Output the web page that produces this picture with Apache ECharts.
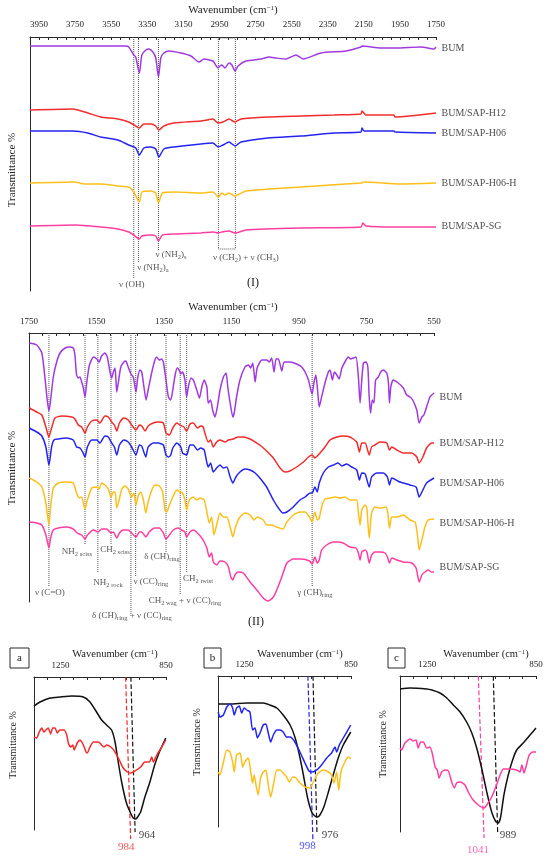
<!DOCTYPE html>
<html>
<head>
<meta charset="utf-8">
<script src="https://cdn.jsdelivr.net/npm/echarts@6.0.0/dist/echarts.min.js"></script>
<style>
  html, body { margin: 0; padding: 0; background: #fff; }
  #chart { width: 550px; height: 861px; }
</style>
</head>
<body>
<div id="chart"></div>
<script>
/* ========== 数据 ========== */
const seriesNames = ['BUM', 'BUM/SAP-H12', 'BUM/SAP-H06', 'BUM/SAP-H06-H', 'BUM/SAP-SG'];

// (I) 4000-1750 cm-1, [wavenumber, transmittance (a.u.)]
const bumI = [[4000,245],[3470,245],[3453,244],[3425,236],[3414,234],[3394,218],[3380,236],[3358,241],[3341,242],[3319,239],[3303,233],[3288,214],[3275,233],[3258,238],[3230,240],[3164,238],[3108,235],[3064,229],[3036,232],[2986,230],[2958,223],[2947,225],[2936,226],[2920,223],[2897,228],[2881,226],[2864,220],[2847,225],[2803,230],[2720,232],[2675,234],[2636,233],[2581,232],[2526,236],[2487,232],[2387,238],[2249,240],[2166,244],[2160,245],[2055,243],[1972,243],[1833,244],[1761,242],[1750,244]];
const h12I = [[4000,181],[3763,182],[3680,178],[3608,174],[3513,172],[3453,169],[3414,165],[3394,163],[3369,167],[3330,167],[3303,165],[3286,161],[3258,165],[3203,168],[3053,170],[2986,172],[2958,168],[2931,169],[2897,172],[2864,169],[2831,172],[2682,174],[2499,175],[2316,176],[2166,177],[2160,180],[2149,178],[2140,176],[1983,176],[1977,174],[1750,178]];
const h06I = [[4000,160],[3763,160],[3680,158],[3608,154],[3513,151],[3453,146],[3414,143],[3394,136],[3369,143],[3330,144],[3303,142],[3286,134],[3258,142],[3203,144],[3053,147],[2986,148],[2958,144],[2931,146],[2897,149],[2864,145],[2831,149],[2682,153],[2499,155],[2316,158],[2166,159],[2160,163],[2149,160],[1983,160],[1977,159],[1750,158]];
const h06hI = [[4000,108],[3750,109],[3700,107],[3608,107],[3513,105],[3453,104],[3425,99],[3394,89],[3380,99],[3330,100],[3303,98],[3288,88],[3266,98],[3194,99],[3053,98],[2986,99],[2956,94],[2936,98],[2920,96],[2897,98],[2864,95],[2803,100],[2499,104],[2166,108],[2149,109],[1944,107],[1750,108]];
const sgI = [[4000,65],[3750,66],[3608,64],[3513,62],[3453,59],[3425,56],[3394,52],[3380,55],[3330,56],[3303,55],[3288,50],[3266,56],[3194,57],[3053,58],[2986,59],[2956,58],[2936,59],[2897,60],[2864,58],[2803,61],[2499,63],[2166,64],[2155,68],[2138,65],[1977,64],[1750,64]];

// (II) 1750-550 cm-1
const bumII = [[1749,259],[1727,257],[1712,249],[1703,225],[1696,202],[1691,191],[1686,202],[1678,225],[1668,240],[1658,249],[1643,254],[1629,255],[1619,254],[1614,247],[1609,227],[1604,224],[1599,225],[1594,220],[1589,214],[1584,205],[1579,219],[1571,237],[1559,245],[1549,243],[1542,240],[1535,246],[1525,249],[1518,245],[1510,230],[1505,224],[1500,230],[1495,234],[1490,210],[1485,220],[1478,235],[1469,240],[1463,241],[1456,235],[1448,228],[1441,225],[1433,210],[1428,224],[1421,232],[1416,230],[1409,214],[1403,202],[1397,212],[1386,230],[1377,242],[1372,245],[1364,242],[1357,243],[1352,240],[1344,222],[1337,205],[1330,202],[1324,212],[1317,227],[1311,234],[1305,232],[1300,228],[1295,230],[1288,222],[1283,205],[1278,215],[1270,224],[1263,222],[1253,212],[1245,204],[1238,215],[1231,222],[1223,215],[1219,199],[1212,202],[1206,192],[1199,185],[1192,195],[1184,212],[1174,225],[1166,229],[1161,215],[1154,199],[1146,185],[1142,189],[1135,205],[1125,222],[1110,235],[1100,237],[1093,234],[1087,239],[1080,220],[1074,234],[1060,242],[1046,242],[1038,240],[1031,244],[1024,230],[1018,243],[1011,243],[1001,231],[994,240],[977,240],[957,238],[942,235],[932,230],[922,222],[915,212],[911,208],[906,219],[900,227],[895,212],[890,195],[883,205],[873,219],[863,230],[858,232],[851,222],[845,230],[838,227],[831,223],[823,234],[814,240],[804,245],[797,243],[789,244],[781,245],[774,225],[769,199],[764,222],[759,239],[751,240],[746,235],[742,205],[738,189],[733,202],[728,199],[723,222],[715,225],[708,230],[700,232],[690,229],[685,219],[682,199],[678,215],[671,222],[656,219],[641,214],[631,207],[621,205],[613,202],[601,192],[594,179],[586,185],[580,187],[572,195],[562,205],[550,209]];
const h12II = [[1749,194],[1727,190],[1712,187],[1700,175],[1691,165],[1683,174],[1673,184],[1653,186],[1623,185],[1614,183],[1604,177],[1594,175],[1584,169],[1577,175],[1564,181],[1549,182],[1540,179],[1525,186],[1515,185],[1505,180],[1497,177],[1490,171],[1482,179],[1469,184],[1456,182],[1446,177],[1433,172],[1423,177],[1416,176],[1406,171],[1397,176],[1382,179],[1367,180],[1352,179],[1344,169],[1334,167],[1324,174],[1312,179],[1303,177],[1291,175],[1283,171],[1273,178],[1263,179],[1251,174],[1241,176],[1234,175],[1229,169],[1219,160],[1212,162],[1204,155],[1194,160],[1184,162],[1169,160],[1159,162],[1145,163],[1130,165],[1115,165],[1095,163],[1080,160],[1066,157],[1046,151],[1026,144],[1006,134],[991,130],[977,131],[957,135],[937,140],[922,145],[911,147],[903,144],[893,147],[873,155],[858,162],[838,165],[819,166],[799,165],[779,160],[771,150],[764,159],[754,159],[742,147],[735,155],[725,157],[710,160],[690,159],[682,152],[675,155],[660,152],[641,149],[616,149],[601,145],[594,139],[583,145],[572,154],[557,159],[550,159]];
const h06II = [[1749,174],[1727,170],[1712,166],[1700,155],[1691,137],[1683,155],[1676,162],[1663,163],[1638,164],[1619,162],[1609,155],[1599,154],[1591,150],[1584,145],[1577,155],[1564,162],[1549,162],[1540,159],[1525,166],[1515,165],[1505,159],[1497,155],[1490,147],[1482,157],[1469,162],[1456,160],[1446,155],[1433,147],[1423,157],[1416,156],[1404,145],[1397,155],[1382,159],[1367,159],[1352,157],[1344,147],[1337,145],[1330,147],[1324,154],[1312,159],[1300,155],[1295,149],[1283,147],[1273,157],[1263,157],[1251,152],[1241,154],[1231,152],[1219,135],[1212,139],[1204,130],[1194,134],[1184,137],[1174,134],[1164,135],[1154,125],[1146,119],[1137,125],[1125,130],[1110,133],[1095,132],[1080,129],[1066,124],[1046,115],[1026,102],[1011,94],[998,89],[986,90],[967,95],[947,102],[932,105],[917,109],[911,109],[903,115],[896,110],[890,119],[878,129],[863,135],[848,137],[834,139],[823,136],[809,138],[794,135],[779,132],[771,122],[764,129],[754,128],[742,115],[735,125],[720,129],[700,129],[688,125],[682,117],[675,124],[651,120],[621,117],[603,115],[594,105],[583,112],[572,119],[550,124]];
const h06hII = [[1749,124],[1727,120],[1712,115],[1700,99],[1691,77],[1686,95],[1678,114],[1663,119],[1638,120],[1619,119],[1609,109],[1601,104],[1594,105],[1589,99],[1584,93],[1577,102],[1564,114],[1549,115],[1542,113],[1535,119],[1525,117],[1515,113],[1507,105],[1500,110],[1495,110],[1490,94],[1483,102],[1475,113],[1466,116],[1456,113],[1446,105],[1439,109],[1433,97],[1426,107],[1419,110],[1411,102],[1404,89],[1397,100],[1386,112],[1377,117],[1364,116],[1354,110],[1347,92],[1342,90],[1334,97],[1324,105],[1312,112],[1303,110],[1295,109],[1288,102],[1283,92],[1275,102],[1263,105],[1253,102],[1243,104],[1231,102],[1223,90],[1216,79],[1209,85],[1202,67],[1194,77],[1184,89],[1174,85],[1164,85],[1154,75],[1146,65],[1139,74],[1127,84],[1110,89],[1095,87],[1083,82],[1074,85],[1056,82],[1046,77],[1031,77],[1016,75],[998,73],[986,80],[967,87],[947,90],[932,90],[919,85],[911,80],[903,90],[896,82],[890,84],[883,95],[873,103],[858,104],[843,105],[829,104],[814,105],[799,102],[779,102],[774,89],[769,77],[764,92],[754,97],[749,94],[742,64],[735,89],[725,95],[710,94],[692,95],[687,89],[682,74],[675,85],[660,85],[641,87],[621,82],[606,80],[599,67],[594,52],[586,62],[577,75],[567,82],[550,83]];
const sgII = [[1749,80],[1727,79],[1712,77],[1700,67],[1691,54],[1686,64],[1678,72],[1663,74],[1638,75],[1619,73],[1607,69],[1594,67],[1584,63],[1577,67],[1559,72],[1545,70],[1535,73],[1520,73],[1507,69],[1500,70],[1490,64],[1482,69],[1471,72],[1456,72],[1446,69],[1433,65],[1423,70],[1416,70],[1404,65],[1394,70],[1377,74],[1364,74],[1352,69],[1344,63],[1334,67],[1322,72],[1308,74],[1298,72],[1288,70],[1283,65],[1273,70],[1263,72],[1251,69],[1238,64],[1231,60],[1223,54],[1216,45],[1209,49],[1204,40],[1194,37],[1184,41],[1169,40],[1159,35],[1152,25],[1146,22],[1140,27],[1130,30],[1115,29],[1095,20],[1075,12],[1056,4],[1041,1],[1026,5],[1016,12],[1001,25],[986,39],[967,43],[942,43],[919,41],[911,38],[903,45],[896,39],[890,42],[883,52],[868,57],[848,60],[838,60],[819,59],[799,55],[781,54],[774,49],[769,42],[764,50],[754,52],[748,49],[742,39],[735,47],[725,50],[710,50],[695,49],[688,45],[682,39],[675,44],[660,42],[641,40],[616,39],[603,34],[594,20],[586,27],[577,30],[567,32],[557,30],[550,30]];

// (a)(b)(c) 1350-850 cm-1
const bumA = [[1350,124],[1327,128],[1289,132],[1252,133],[1207,134],[1163,133],[1138,128],[1113,118],[1094,110],[1075,105],[1056,100],[1043,88],[1031,68],[1018,48],[1001,28],[986,18],[974,12],[964,11],[955,14],[946,18],[930,33],[911,48],[893,65],[875,78],[851,92]];
const h12A = [[1350,93],[1340,92],[1330,98],[1321,102],[1312,98],[1305,100],[1296,102],[1287,96],[1279,102],[1270,102],[1262,97],[1252,100],[1236,100],[1226,95],[1220,87],[1211,83],[1203,85],[1198,80],[1186,87],[1176,90],[1163,85],[1153,78],[1148,77],[1138,83],[1125,88],[1106,88],[1094,85],[1085,83],[1075,85],[1059,83],[1043,78],[1027,70],[1012,62],[996,58],[984,57],[974,58],[946,63],[930,68],[913,68],[904,73],[898,68],[885,75],[866,83],[851,90]];
const bumB = [[1350,123],[1305,123],[1242,124],[1180,124],[1155,122],[1129,119],[1105,112],[1079,102],[1061,90],[1044,72],[1029,52],[1014,30],[998,15],[986,11],[976,10],[967,12],[952,20],[935,35],[917,52],[898,69],[879,82],[851,95]];
const h06B = [[1349,115],[1343,110],[1330,112],[1317,120],[1305,123],[1295,119],[1289,112],[1280,119],[1270,121],[1261,114],[1252,119],[1242,117],[1230,115],[1220,97],[1211,99],[1202,89],[1192,94],[1180,102],[1170,103],[1161,94],[1152,85],[1142,92],[1129,97],[1117,97],[1105,95],[1092,90],[1079,90],[1061,85],[1042,75],[1023,64],[1008,56],[998,55],[985,56],[967,60],[941,69],[923,74],[910,80],[904,75],[894,82],[879,89],[851,102]];
const h06hB = [[1349,55],[1343,52],[1332,62],[1317,77],[1305,75],[1295,65],[1289,55],[1280,72],[1267,74],[1257,60],[1249,65],[1236,69],[1227,55],[1220,44],[1214,52],[1207,42],[1199,32],[1190,49],[1180,55],[1170,57],[1161,42],[1152,30],[1142,42],[1129,57],[1117,57],[1105,54],[1092,50],[1082,45],[1069,50],[1057,49],[1042,44],[1023,40],[1004,39],[992,45],[973,54],[954,57],[935,55],[923,52],[914,44],[904,55],[896,37],[888,55],[873,65],[860,70],[851,68]];
const bumC = [[1350,143],[1313,144],[1252,143],[1233,142],[1203,139],[1178,134],[1154,127],[1129,120],[1105,110],[1086,99],[1068,84],[1050,64],[1031,40],[1013,20],[999,11],[989,9],[980,15],[968,37],[952,57],[936,72],[921,82],[897,89],[872,97],[850,104]];
const sgC = [[1350,84],[1344,82],[1332,89],[1313,93],[1301,91],[1291,92],[1283,84],[1274,90],[1264,90],[1252,84],[1240,85],[1230,77],[1221,65],[1213,62],[1206,54],[1197,60],[1185,62],[1172,61],[1160,50],[1150,44],[1142,49],[1129,50],[1111,47],[1099,40],[1081,32],[1062,27],[1041,24],[1031,27],[1013,35],[995,47],[982,57],[970,63],[945,63],[921,62],[909,60],[902,67],[894,59],[887,65],[875,77],[862,80],[850,80]];

// band assignments: [wavenumber, lower end]
const bandLinesI = [[3425, 12], [3399, 28], [3288, 41]];
const bandBoxI = [[2956, 253], [2862, 253], [2862, 42], [2956, 42], [2956, 253]];
const bandLabelsI = [
  [3436, 6, 'ν (OH)'],
  [3319, 23, 'ν (NH{s|2}){s|a}'],
  [3219, 36, 'ν (NH{s|2}){s|s}'],
  [2804, 33, 'ν (CH{s|2}) + ν (CH{s|3})']
];
const bandLinesII = [[1691, 16], [1584, 57], [1546, 30], [1507, 57], [1448, -13], [1434, 26], [1344, 50], [1302, 7], [1283, 30], [911, 15]];
const bandLabelsII = [
  [1608, 50, 'NH{s|2 sciss}'],
  [1495, 52, 'CH{s|2 sciss}'],
  [1516, 19, 'NH{s|2 rock}'],
  [1389, 20, 'ν (CC){s|ring}'],
  [1356, 45, 'δ (CH){s|ring}'],
  [1249, 23, 'CH{s|2 twist}'],
  [1288, 1, 'CH{s|2 wag} + ν (CC){s|ring}'],
  [1445, -14, 'δ (CH){s|ring} + ν (CC){s|ring}'],
  [1688, 9, 'ν (C=O)'],
  [903, 9, 'γ (CH){s|ring}']
];

// peak markers: [top wavenumber, bottom wavenumber, bottom value]
const peakLinesA = [[1003, 984, -9], [983, 967, -2]];
const peakLabelsA = [[1001, -17, '984'], [922, -5, '964']];
const peakLinesB = [[1012, 993, -15], [993, 978, -5]];
const peakLabelsB = [[1014, -19, '998'], [929, -8, '976']];
const peakLinesC = [[1062, 1041, -6], [1007, 991, 0]];
const peakLabelsC = [[1063, -18, '1041'], [953, -3, '989']];

/* ========== 样式 ========== */
const FONT = 'Liberation Serif';
const INK = '#2a2a2a';
const C = { bum: '#a03ae0', h12: '#f22c2c', h06: '#2424f0', h06h: '#ffbf1a', sg: '#ff3fa0', black: '#111' };

const grids = [
  { left: 30, top: 37, width: 406, height: 254 },
  { left: 29, top: 333, width: 405, height: 269 },
  { left: 34, top: 677, width: 132, height: 153 },
  { left: 218, top: 676, width: 133, height: 151 },
  { left: 400, top: 676, width: 136, height: 156 }
];

function xAxisOf(i, min, max, interval, split, formatter, margin) {
  return {
    type: 'value', gridIndex: i, position: 'top', inverse: true,
    min, max, interval,
    axisLine: { onZero: false, lineStyle: { color: INK, width: 1 } },
    axisTick: { inside: true, length: 3, lineStyle: { color: INK } },
    minorTick: { show: true, splitNumber: split, length: 3, lineStyle: { color: INK } },
    axisLabel: { margin, fontFamily: FONT, fontSize: 9, color: '#222', formatter },
    splitLine: { show: false }, minorSplitLine: { show: false }
  };
}
function yAxisOf(i) {
  return {
    type: 'value', gridIndex: i, min: 0, max: grids[i].height,
    axisLine: { show: true, onZero: false, lineStyle: { color: INK, width: 1 } },
    axisTick: { show: false }, axisLabel: { show: false }, splitLine: { show: false }
  };
}

const series = [];
function curve(i, data, color, name, dy) {
  series.push({
    type: 'line', xAxisIndex: i, yAxisIndex: i, data, symbol: 'none', smooth: 0.2,
    lineStyle: { color, width: 1.5 }, silent: true, z: 3
  });
  if (name) {
    series.push({
      type: 'scatter', xAxisIndex: i, yAxisIndex: i, symbolSize: 1, clip: false, silent: true,
      itemStyle: { color: 'rgba(0,0,0,0)' },
      data: [{ value: data[data.length - 1], text: name }],
      label: { show: true, position: 'right', distance: 5, offset: [0, dy], formatter: p => p.data.text,
               fontFamily: FONT, fontSize: 10, color: '#222' }
    });
  }
}
function guide(i, pts, color, type, width) {
  series.push({
    type: 'line', xAxisIndex: i, yAxisIndex: i, data: pts, symbol: 'none', clip: false, silent: true,
    lineStyle: { color, type, width }, z: 2
  });
}
function texts(i, items, style, rich) {
  series.push({
    type: 'scatter', xAxisIndex: i, yAxisIndex: i, symbolSize: 1, clip: false, silent: true,
    itemStyle: { color: 'rgba(0,0,0,0)' },
    data: items.map(([x, y, t]) => ({ value: [x, y], text: t })),
    label: Object.assign({ show: true, position: 'inside', formatter: p => p.data.text,
      fontFamily: FONT, lineHeight: 12, rich }, style)
  });
}
const subRich = { s: { fontFamily: FONT, fontSize: 6.5, color: INK, verticalAlign: 'bottom', lineHeight: 7 } };

// (I)
const dyI = [1, 0, 0, 0, -1];
[bumI, h12I, h06I, h06hI, sgI].forEach((d, k) =>
  curve(0, d, [C.bum, C.h12, C.h06, C.h06h, C.sg][k], seriesNames[k], dyI[k]));
bandLinesI.forEach(([x, y]) => guide(0, [[x, grids[0].height], [x, y]], '#555', 'dotted', 1));
guide(0, bandBoxI, '#555', 'dotted', 1);
texts(0, bandLabelsI, { fontSize: 9, color: INK }, subRich);

// (II)
const dyII = [4, 0, 5, 4, -5];
[bumII, h12II, h06II, h06hII, sgII].forEach((d, k) =>
  curve(1, d, [C.bum, C.h12, C.h06, C.h06h, C.sg][k], seriesNames[k], dyII[k]));
bandLinesII.forEach(([x, y]) => guide(1, [[x, grids[1].height], [x, y]], '#555', 'dotted', 1));
texts(1, bandLabelsII, { fontSize: 9, color: INK }, subRich);

// (a)(b)(c)
function peaks(i, lines, labels, colors) {
  lines.forEach(([x0, x1, y1], k) => guide(i, [[x0, grids[i].height], [x1, y1]], colors[k], 'dashed', 1.2));
  labels.forEach((l, k) => texts(i, [l], { fontSize: 11, color: colors[k] }, {}));
}
curve(2, bumA, C.black); curve(2, h12A, C.h12);
peaks(2, peakLinesA, peakLabelsA, [C.h12, C.black]);
curve(3, bumB, C.black); curve(3, h06B, C.h06); curve(3, h06hB, C.h06h);
peaks(3, peakLinesB, peakLabelsB, [C.h06, C.black]);
curve(4, bumC, C.black); curve(4, sgC, C.sg);
peaks(4, peakLinesC, peakLabelsC, [C.sg, C.black]);

const smallFmt = v => (v === 1250 || v === 850) ? String(v) : '';
const xAxes = [
  xAxisOf(0, 1750, 4000, 200, 4, v => v > 3950 ? '' : String(v), 8),
  xAxisOf(1, 550, 1750, 200, 5, v => String(v), 7),
  xAxisOf(2, 850, 1350, 50, 1, smallFmt, 7),
  xAxisOf(3, 850, 1350, 50, 1, smallFmt, 7),
  xAxisOf(4, 850, 1350, 50, 1, smallFmt, 7)
];
xAxes.slice(2).forEach(a => { a.minorTick.show = false; });

/* ========== 文字 ========== */
function label(x, y, text, size, rot) {
  return {
    type: 'text', x, y, rotation: rot || 0, silent: true,
    style: {
      text, fill: '#222', fontFamily: FONT, fontSize: size,
      align: 'center', verticalAlign: 'middle', textAlign: 'center', textVerticalAlign: 'middle',
      rich: { p: { fontFamily: FONT, fontSize: size * 0.65, fill: '#222', verticalAlign: 'top', lineHeight: size * 0.7 } }
    }
  };
}
function box(x, y, w, ch) {
  return [
    { type: 'rect', shape: { x, y, width: w, height: 20 }, style: { fill: 'none', stroke: INK, lineWidth: 1 }, silent: true },
    label(x + w / 2, y + 10, ch, 11)
  ];
}
const title = 'Wavenumber (cm{p|−1})';
const graphic = [
  label(233, 10, title, 11), label(233, 307, title, 11),
  label(115, 654, title, 10.5), label(300, 654, title, 10.5), label(486, 654, title, 10.5),
  label(12, 170, 'Transmittance %', 11, Math.PI / 2),
  label(12, 468, 'Transmittance %', 11, Math.PI / 2),
  label(13, 745, 'Transmittance %', 10, Math.PI / 2),
  label(197, 742, 'Transmittance %', 10, Math.PI / 2),
  label(383, 744, 'Transmittance %', 10, Math.PI / 2),
  label(253, 283, '(I)', 12), label(256, 622, '(II)', 12),
  ...box(10, 648, 19, 'a'), ...box(204, 648, 17, 'b'), ...box(388, 648, 17, 'c')
];

const chart = echarts.init(document.getElementById('chart'));
chart.setOption({
  backgroundColor: '#fff',
  animation: false,
  grid: grids,
  xAxis: xAxes,
  yAxis: grids.map((g, i) => yAxisOf(i)),
  series,
  graphic
});
</script>
</body>
</html>
